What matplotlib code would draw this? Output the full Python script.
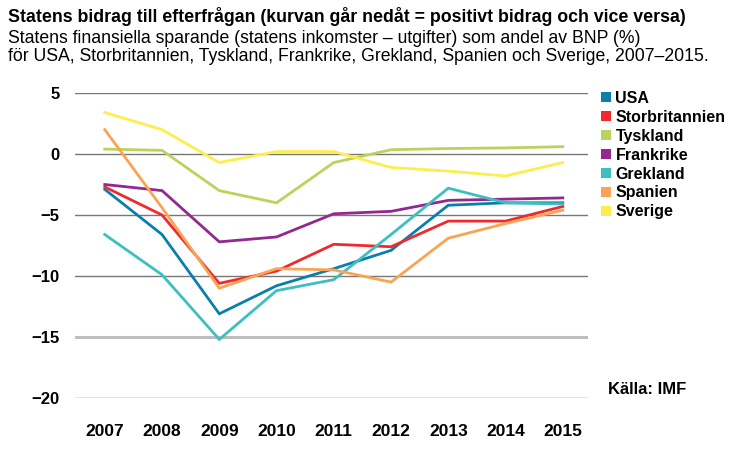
import numpy as np
import matplotlib
matplotlib.use("Agg")
import matplotlib.pyplot as plt
from matplotlib.patches import Patch

# Data ........................................................................

years = [2007, 2008, 2009, 2010, 2011, 2012, 2013, 2014, 2015]

usa = [-2.9, -6.6, -13.1, -10.8, -9.4, -7.9, -4.2, -4.0, -4.0]
storbritannien = [-2.7, -5.0, -10.6, -9.6, -7.4, -7.6, -5.5, -5.5, -4.3]
tyskland = [0.4, 0.3, -3.0, -4.0, -0.7, 0.35, 0.45, 0.5, 0.6]
frankrike = [-2.5, -3.0, -7.2, -6.8, -4.9, -4.7, -3.8, -3.7, -3.6]
grekland = [-6.6, -9.9, -15.2, -11.2, -10.3, -6.6, -2.8, -4.0, -4.1]
spanien = [2.0, -4.4, -11.0, -9.4, -9.5, -10.5, -6.9, -5.7, -4.6]
sverige = [3.4, 2.0, -0.7, 0.2, 0.2, -1.1, -1.4, -1.8, -0.7]

names = ["USA", "Storbritannien", "Tyskland", "Frankrike", "Grekland", "Spanien", "Sverige"]
series = [usa, storbritannien, tyskland, frankrike, grekland, spanien, sverige]
colors = ["#0b7fab", "#ee2a2e", "#b8d45c", "#93298f", "#3dbfbf", "#f9a455", "#fdee4f"]

yticks = [5, 0, -5, -10, -15, -20]

# Plot ........................................................................

plt.rcParams["font.family"] = ["Liberation Sans", "DejaVu Sans"]

fig = plt.figure(figsize=(7.45, 4.57), dpi=100)
ax = fig.add_axes([75 / 745, 1 - 398 / 457, (588 - 75) / 745, (398 - 93) / 457])

# Gridlines (the -15 line is lighter and thicker in the original)
for y in yticks:
    if y == -15:
        ax.axhline(y, color="#bdbdbd", lw=2.2, zorder=0)
    else:
        ax.axhline(y, color="#777777", lw=1.0, zorder=0)

for vals, c in zip(series, colors):
    ax.plot(years, vals, color=c, lw=2.0, clip_on=False, solid_joinstyle="miter")

ax.set_xlim(2006.48, 2015.44)
ax.set_ylim(-20, 5)
ax.set_xticks(years)
ax.set_yticks(yticks)
ax.tick_params(length=0)
ax.tick_params(axis="x", pad=19, labelsize=12.5)
ax.tick_params(axis="y", pad=11, labelsize=12)
for lab in ax.get_xticklabels() + ax.get_yticklabels():
    lab.set_fontweight("bold")
for s in ax.spines.values():
    s.set_visible(False)

handles = [Patch(facecolor=c, edgecolor="none") for c in colors]
leg = ax.legend(handles, names, loc="upper left", bbox_to_anchor=(1.013, 1.028),
                frameon=False, handlelength=0.6, handleheight=0.6,
                handletextpad=0.3, labelspacing=0.245, borderaxespad=0,
                prop={"weight": "bold", "size": 11.5})

fig.text(0.011, 0.964, "Statens bidrag till efterfrågan (kurvan går nedåt = positivt bidrag och vice versa)",
         weight="bold", fontsize=12.8, va="center")
fig.text(0.011, 0.915, "Statens finansiella sparande (statens inkomster – utgifter) som andel av BNP (%)",
         fontsize=12.7, va="center")
fig.text(0.011, 0.877, "för USA, Storbritannien, Tyskland, Frankrike, Grekland, Spanien och Sverige, 2007–2015.",
         fontsize=12.7, va="center")
fig.text(608 / 745, 1 - 390 / 457, "Källa: IMF", weight="bold", fontsize=12, va="center")

fig.savefig("out.png", dpi=100)
